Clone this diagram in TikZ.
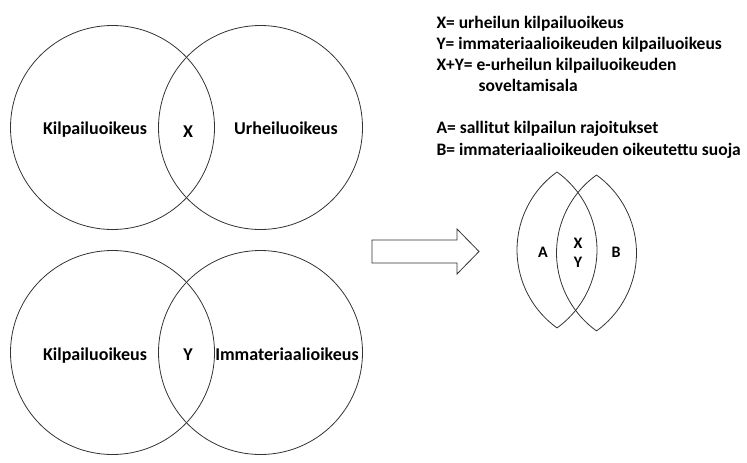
\documentclass[tikz,border=0pt]{standalone}
\usepackage{fontspec}
\setmainfont{Carlito}

\begin{document}
\begin{tikzpicture}[x = 1pt, y = -1pt,
    venn/.style = {circle, draw = black!80, line width = .8pt, minimum size = 204pt, inner sep = 0pt},
    biglbl/.style = {font = \fontsize{18}{21}\selectfont\bfseries, anchor = base},
    smalllbl/.style = {font = \fontsize{17.5}{21}\selectfont\bfseries, anchor = base west},
    lenslbl/.style = {font = \fontsize{16}{19}\selectfont\bfseries}]

            \useasboundingbox (0,0) rectangle (747,463);

            \node [venn] (kilpa) at (112.5,127.5) {};
            \node [venn] (urhei) at (260.5,127.5) {};
            \node [venn] (kilpb) at (112.5,352.5) {};
            \node [venn] (immat) at (260.5,352.5) {};

            \node [biglbl] (kilpatxt) at (95,134) {Kilpailuoikeus};
            \node [biglbl] (xtxt) at (188,137) {X};
            \node [biglbl] (urheitxt) at (286,134) {Urheiluoikeus};
            \node [biglbl] (kilpbtxt) at (95,360) {Kilpailuoikeus};
            \node [biglbl] (ytxt) at (188,360) {Y};
            \node [biglbl] (immattxt) at (287,360) {Immateriaalioikeus};

            \draw [black!80, line width = .8pt] (372,240) -- (457,240) -- (457,229) -- (479,251.5)
              -- (457,274) -- (457,263) -- (372,263) -- cycle;

            \foreach \cx/\cy in {557/250, 596.5/253} {
              \draw [black!80, line width = .8pt] (\cx,\cy-78) arc [start angle = 234.3, end angle = 125.7, radius = 96]
                arc [start angle = 54.3, end angle = -54.3, radius = 96] -- cycle;
            }
            \node [lenslbl] (alens) at (543,252) {A};
            \node [lenslbl] (xlens) at (578,243) {X};
            \node [lenslbl] (ylens) at (578,262) {Y};
            \node [lenslbl] (blens) at (616,252) {B};

            \node [smalllbl] (xdef) at (433,28) {X= urheilun kilpailuoikeus};
            \node [smalllbl] (ydef) at (433,49) {Y= immateriaalioikeuden kilpailuoikeus};
            \node [smalllbl] (xydef) at (433,70) {X+Y= e-urheilun kilpailuoikeuden};
            \node [smalllbl] (xydefb) at (475,91) {soveltamisala};
            \node [smalllbl] (adef) at (433,133) {A= sallitut kilpailun rajoitukset};
            \node [smalllbl] (bdef) at (433,155) {B= immateriaalioikeuden oikeutettu suoja};
            \end{tikzpicture}
\end{document}
